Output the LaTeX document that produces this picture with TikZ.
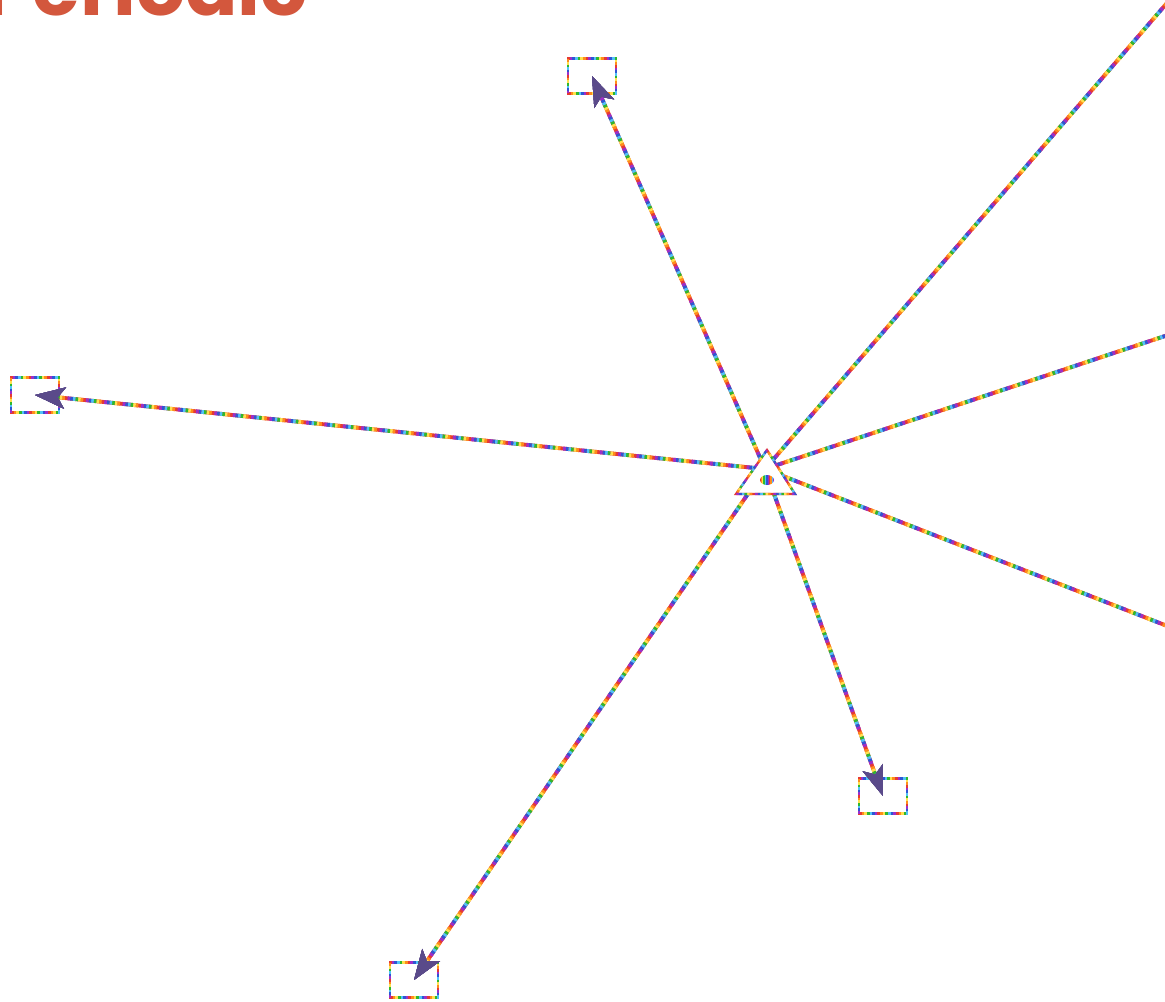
\documentclass[tikz,border=0pt]{standalone}
\usepackage{fontspec}
\newfontfamily\titlefont{Poppins}
\usetikzlibrary{arrows.meta}

\definecolor{titlered}{HTML}{D3573D}
\definecolor{rbred}{HTML}{E53935}
\definecolor{rborange}{HTML}{FF8C1A}
\definecolor{rbyellow}{HTML}{FFE14D}
\definecolor{rbgreen}{HTML}{2EB82E}
\definecolor{rbcyan}{HTML}{4FC3F7}
\definecolor{rbblue}{HTML}{2F55D4}
\definecolor{rbviolet}{HTML}{9C2FC9}
\definecolor{tipdark}{HTML}{5A4A8A}

\pgfdeclarehorizontalshading{rbstripes}{100bp}{color(0bp)=(rbred); color(25bp)=(rbred);
  color(25.01bp)=(rborange); color(30bp)=(rborange); color(30.01bp)=(rbyellow); color(35bp)=(rbyellow);
  color(35.01bp)=(rbgreen); color(40bp)=(rbgreen); color(40.01bp)=(rbcyan); color(45bp)=(rbcyan);
  color(45.01bp)=(rbblue); color(50bp)=(rbblue); color(50.01bp)=(rbviolet); color(55bp)=(rbviolet);
  color(55.01bp)=(rbred); color(60bp)=(rbred); color(60.01bp)=(rborange); color(65bp)=(rborange);
  color(65.01bp)=(rbcyan); color(70bp)=(rbcyan); color(70.01bp)=(rbviolet); color(100bp)=(rbviolet)}

\tikzset{
  rainbow/.style={draw=rbred,
    postaction={draw=rborange, dash pattern=on 1.5pt off 9pt, dash phase=9pt},
    postaction={draw=rbyellow, dash pattern=on 1.5pt off 9pt, dash phase=7.5pt},
    postaction={draw=rbgreen, dash pattern=on 1.5pt off 9pt, dash phase=6pt},
    postaction={draw=rbcyan, dash pattern=on 1.5pt off 9pt, dash phase=4.5pt},
    postaction={draw=rbblue, dash pattern=on 1.5pt off 9pt, dash phase=3pt},
    postaction={draw=rbviolet, dash pattern=on 1.5pt off 9pt, dash phase=1.5pt}},
  link/.style={rainbow, line width=2.2pt},
  arrowlink/.style={link, -{Stealth[length=17pt, width=12pt, inset=4pt, color=tipdark]}},
  target/.style={rectangle, rainbow, line width=1.2pt, minimum width=0.96cm, minimum height=0.7cm, inner sep=0pt}
}

\begin{document}
\begin{tikzpicture}[x=0.02cm, y=-0.02cm]
    \useasboundingbox (0,0) rectangle (1165,1001);

    % title, cut by the top edge
    \node[anchor=base west, inner sep=0pt, text=titlered, font=\titlefont\bfseries\fontsize{44pt}{44pt}\selectfont] (title) at (-16,15) {Periodic};

    % targets
    \node[target] (boxtop) at (592,76) {};
    \node[target] (boxleft) at (35,395) {};
    \node[target] (boxright) at (883,796) {};
    \node[target] (boxbottom) at (414,980) {};

    % hub and off-page ends
    \coordinate (hub) at (765,469);
    \coordinate (offne) at (1192,-26);
    \coordinate (offe) at (1198,325);
    \coordinate (offse) at (1198,638);

    % links
    \draw[link] (hub) -- (offne);
    \draw[link] (hub) -- (offe);
    \draw[link] (hub) -- (offse);
    \draw[arrowlink] (hub) -- (boxtop.center);
    \draw[arrowlink] (hub) -- (boxleft.center);
    \draw[arrowlink] (hub) -- (boxright.center);
    \draw[arrowlink] (hub) -- (boxbottom.center);

    % hub glyph
    \filldraw[fill=white, rainbow, line width=1.3pt] (767,450) -- (795,494) -- (736,494) -- cycle;
    \shade[shading=rbstripes] (767,480) ellipse [x radius=7, y radius=5];

\end{tikzpicture}
\end{document}
